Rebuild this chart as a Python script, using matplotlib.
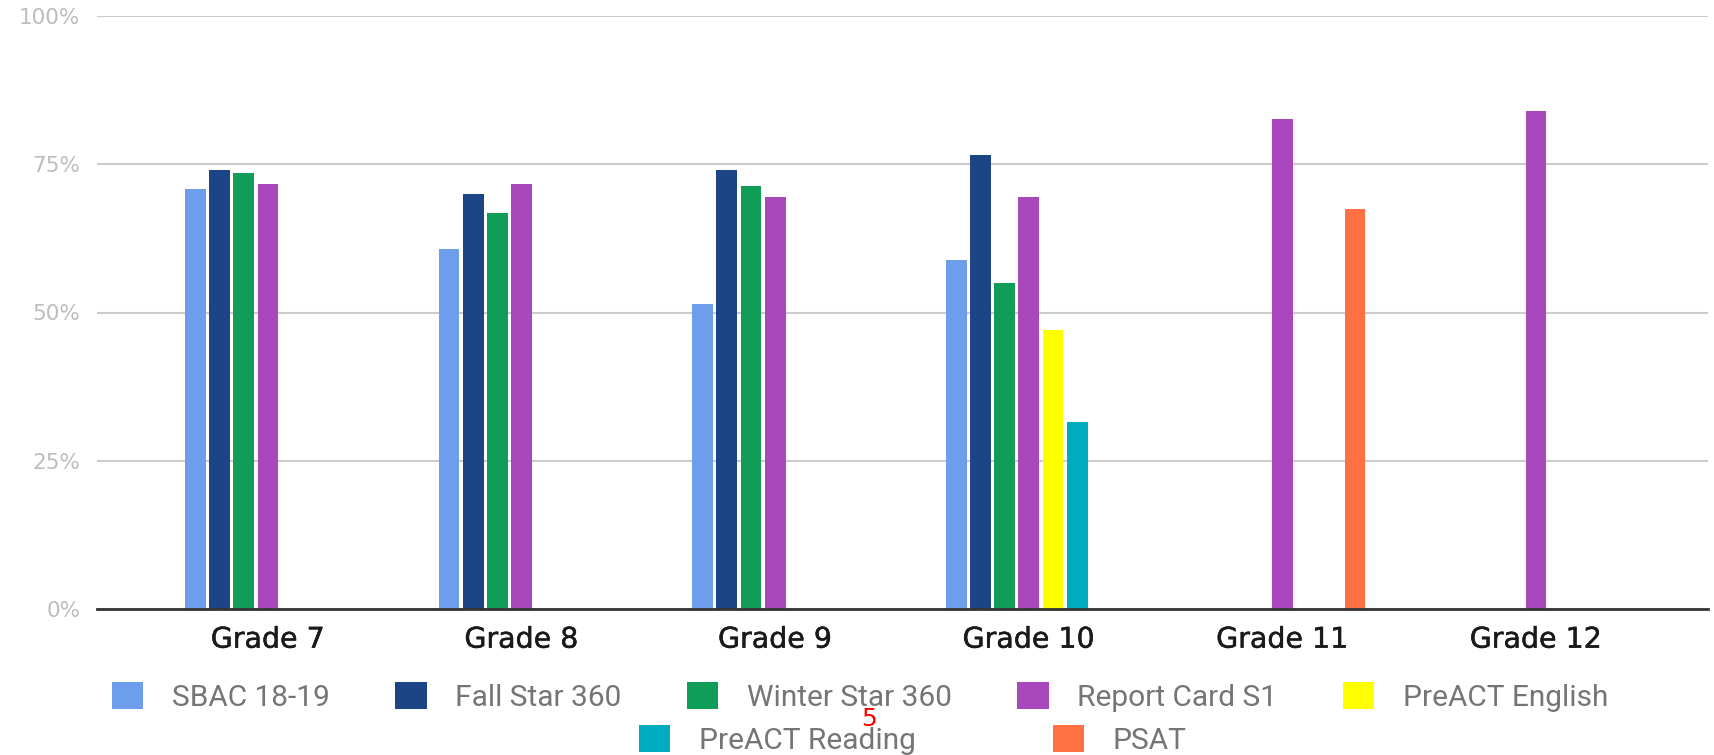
import numpy as np
import matplotlib
matplotlib.use("Agg")
import matplotlib.pyplot as plt
import matplotlib.patheffects as pe
from matplotlib.patches import Patch

nan = np.nan
categories = ["Grade 7", "Grade 8", "Grade 9", "Grade 10", "Grade 11", "Grade 12"]
series_names = ["SBAC 18-19", "Fall Star 360", "Winter Star 360", "Report Card S1",
                "PreACT English", "PreACT Reading", "PSAT"]
sbac = [70.9, 60.7, 51.5, 58.8, nan, nan]
fall_star = [74.0, 69.9, 74.0, 76.6, nan, nan]
winter_star = [73.6, 66.8, 71.4, 55.0, nan, nan]
report_card = [71.7, 71.7, 69.4, 69.4, 82.7, 84.0]
preact_english = [nan, nan, nan, 47.0, nan, nan]
preact_reading = [nan, nan, nan, 31.5, nan, nan]
psat = [nan, nan, nan, nan, 67.5, nan]
y_ticks = [0, 25, 50, 75, 100]
y_tick_labels = ["0%", "25%", "50%", "75%", "100%"]

series_values = [sbac, fall_star, winter_star, report_card, preact_english, preact_reading, psat]
colors = ["#6d9eeb", "#1c4587", "#0f9d58", "#ab47bc", "#ffff00", "#00acc1", "#ff7043"]

W, H = 1714, 755
fig = plt.figure(figsize=(W / 100, H / 100), dpi=100)
ax = fig.add_axes([97 / W, 1 - 609 / H, (1708 - 97) / W, (609 - 16) / H])

x = np.arange(len(categories))
pitch = 0.0954
width = 0.082
n = len(series_values)
for k, (vals, col) in enumerate(zip(series_values, colors)):
    v = np.array(vals, dtype=float)
    m = ~np.isnan(v)
    ax.bar(x[m] + (k - (n - 1) / 2) * pitch, v[m], width=width, color=col, zorder=3)

ax.set_xlim(-0.674, 5.678)
ax.set_ylim(0, 100)
ax.set_yticks(y_ticks)
ax.set_yticklabels(y_tick_labels)
ax.set_xticks(x)
ax.set_xticklabels(categories)
for t in ax.get_yticklabels():
    t.set_fontfamily("DejaVu Sans")
    t.set_fontsize(15.5)
    t.set_color("#bdbdbd")
for t in ax.get_xticklabels():
    t.set_fontfamily("DejaVu Sans")
    t.set_fontsize(20.5)
    t.set_color("#1a1a1a")
    t.set_path_effects([pe.withStroke(linewidth=0.35, foreground="#1a1a1a")])
ax.tick_params(axis="y", length=0, pad=12)
ax.tick_params(axis="x", length=0, pad=12)
for s in ["top", "right", "left"]:
    ax.spines[s].set_visible(False)
ax.spines["bottom"].set_color("#333333")
ax.spines["bottom"].set_linewidth(2)
ax.spines["bottom"].set_zorder(4)
ax.yaxis.grid(True, color="#cccccc", linewidth=1.5, zorder=0)
ax.set_axisbelow(True)

handles = [Patch(facecolor=c, edgecolor="none", label=l) for c, l in zip(colors, series_names)]
leg_kw = dict(frameon=False, handlelength=1.05, handleheight=1.0,
              handletextpad=0.95, borderpad=0, borderaxespad=0,
              labelcolor="#757575", prop={"family": "Roboto", "size": 21.5})
leg1 = fig.legend(handles=handles[:5], ncol=5, loc="center", columnspacing=2.2,
                  bbox_to_anchor=(0.5017, 0.0768), **leg_kw)
leg2 = fig.legend(handles=handles[5:], ncol=2, loc="center", columnspacing=4.6,
                  bbox_to_anchor=(0.5326, 0.0199), **leg_kw)

fig.text(869 / W, 1 - 719 / H, "5", color="red", fontsize=18, ha="center", va="center",
         family=["Liberation Sans Narrow", "DejaVu Sans"])

fig.savefig("out.png", dpi=100)
